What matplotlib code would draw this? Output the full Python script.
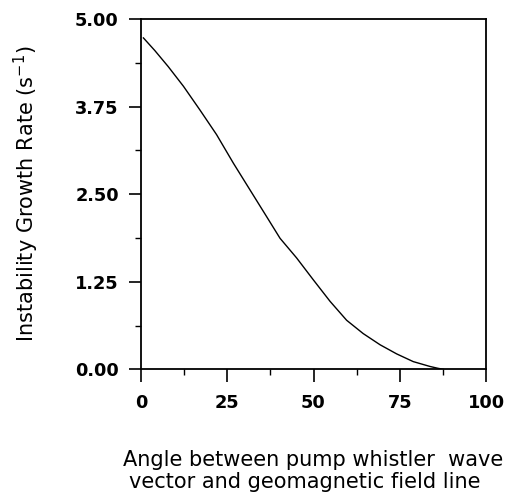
import numpy as np
import matplotlib
matplotlib.use("Agg")
import matplotlib.pyplot as plt
from matplotlib.ticker import MultipleLocator

plt.rcParams["font.family"] = ["DejaVu Sans"]

# curve
angle = [0.7, 4.0, 7.9, 12.3, 17.1, 21.9, 26.8, 31.6, 36.4, 40.3, 45.1,
         49.9, 54.8, 59.6, 64.4, 69.3, 74.1, 78.9, 83.8, 86.0, 87.6]
growth = [4.73, 4.55, 4.32, 4.04, 3.70, 3.35, 2.94, 2.56, 2.18, 1.87, 1.59,
          1.28, 0.97, 0.70, 0.51, 0.35, 0.22, 0.11, 0.04, 0.015, 0.0]

xticks = [0, 25, 50, 75, 100]
yticks = [0.0, 1.25, 2.5, 3.75, 5.0]

fig = plt.figure(figsize=(5.07, 4.98), dpi=100)
ax = fig.add_axes([141 / 507, 1 - 369.3 / 498, 345 / 507, 350.3 / 498])

ax.plot(angle, growth, color="black", linewidth=1.0)

ax.set_xlim(0, 100)
ax.set_ylim(0, 5)
ax.set_xticks(xticks)
ax.set_yticks(yticks)
ax.set_yticklabels([f"{v:.2f}" for v in yticks])
ax.xaxis.set_minor_locator(MultipleLocator(12.5))
ax.yaxis.set_minor_locator(MultipleLocator(0.625))

ax.tick_params(which="major", direction="out", length=9, width=1.2,
               labelsize=12.8)
ax.tick_params(axis="x", which="major", pad=9)
ax.tick_params(axis="y", which="major", pad=7)
ax.tick_params(which="minor", direction="out", length=4, width=1.0)
for lab in ax.get_xticklabels() + ax.get_yticklabels():
    lab.set_fontweight("bold")

for s in ax.spines.values():
    s.set_linewidth(1.3)

fig.text(26.5 / 507, 1 - 194 / 498, "Instability Growth Rate (s$^{-1}$)",
         rotation=90, ha="center", va="center", fontsize=15)
fig.text(313 / 507, 1 - 460.5 / 498, "Angle between pump whistler  wave",
         ha="center", va="center", fontsize=15)
fig.text(305 / 507, 1 - 482.5 / 498, "vector and geomagnetic field line",
         ha="center", va="center", fontsize=15)

fig.savefig("out.png", dpi=100)
